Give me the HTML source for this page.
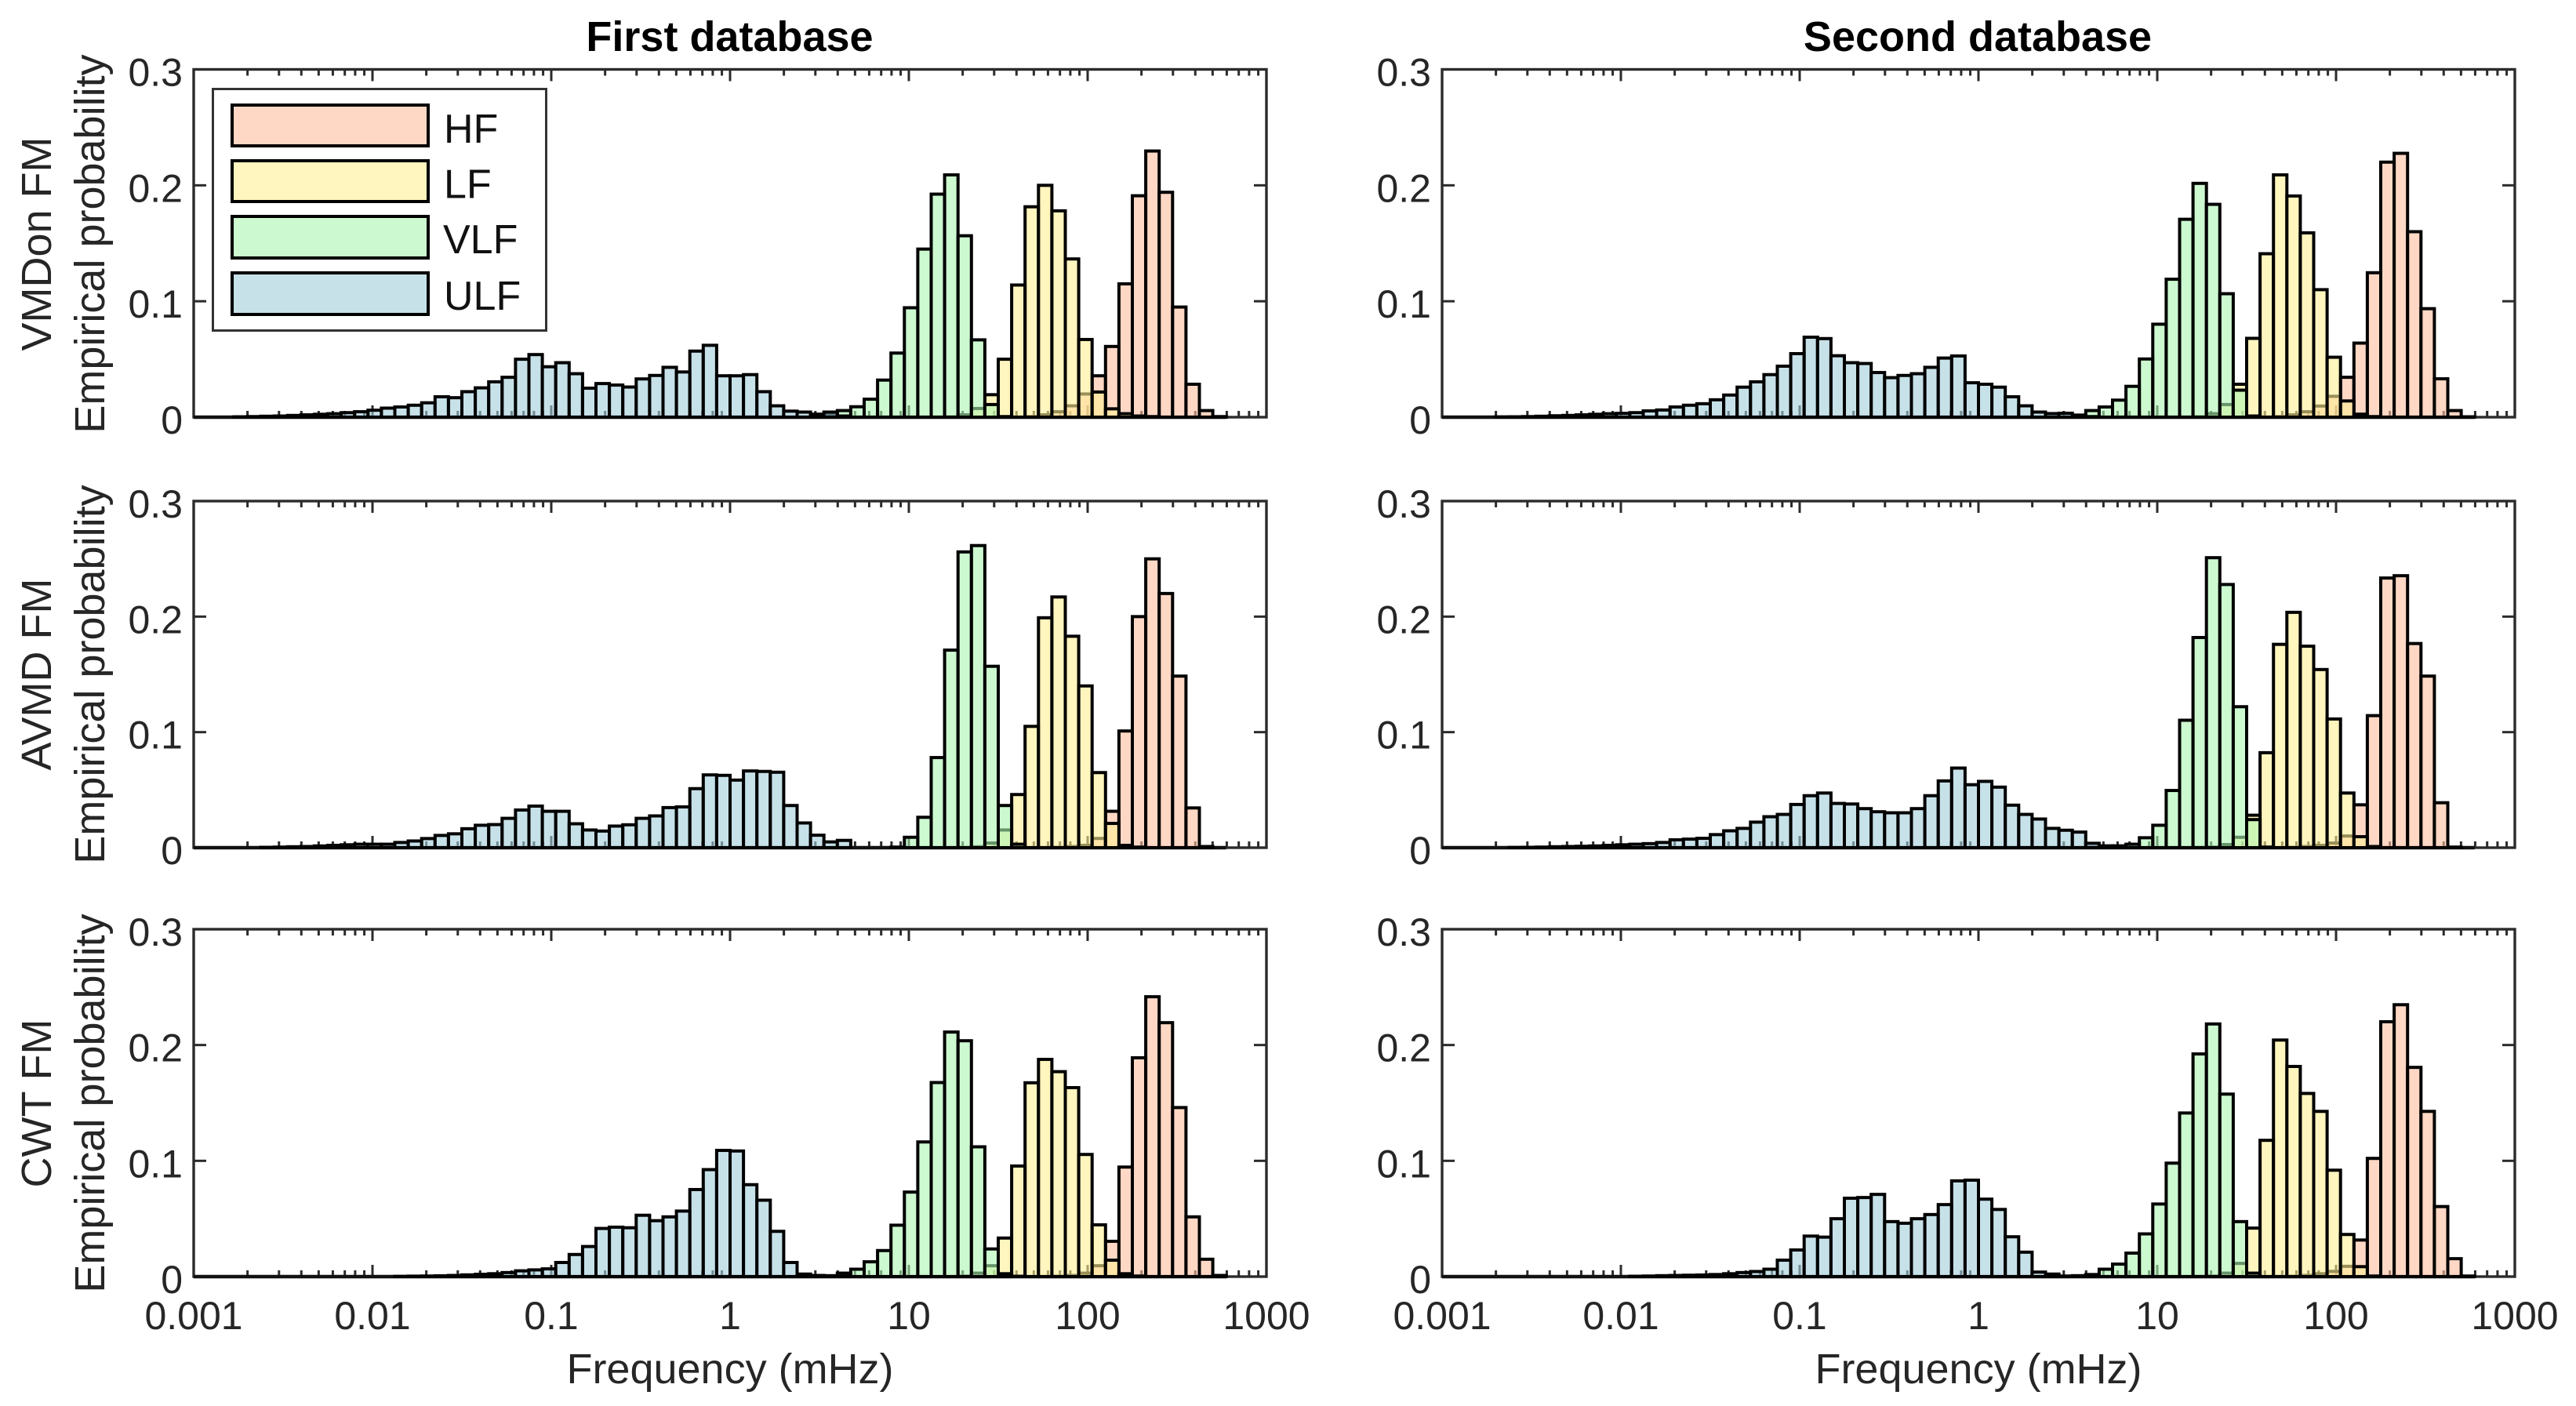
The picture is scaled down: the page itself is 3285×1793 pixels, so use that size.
<!DOCTYPE html>
<html lang="en">
<head>
<meta charset="utf-8">
<title>Empirical probability of FM frequency by band</title>
<style>
html,body{margin:0;padding:0;background:#fff;}
#chart{display:block;width:3285px;height:1793px;background:#fff;font-family:"Liberation Sans",Arial,sans-serif;}
</style>
</head>
<body>
<svg id="chart" xmlns="http://www.w3.org/2000/svg" width="3285" height="1793" viewBox="0 0 3285 1793">
<g id="plots"></g>
<text x="930.5" y="65" text-anchor="middle" font-size="54" font-weight="bold" fill="#000">First database</text>
<text x="2522" y="65" text-anchor="middle" font-size="54" font-weight="bold" fill="#000">Second database</text>
<text transform="translate(65,311) rotate(-90)" text-anchor="middle" font-size="54" fill="#262626">VMDon FM</text>
<text transform="translate(133,311) rotate(-90)" text-anchor="middle" font-size="54" fill="#262626">Empirical probability</text>
<text transform="translate(65,860) rotate(-90)" text-anchor="middle" font-size="54" fill="#262626">AVMD FM</text>
<text transform="translate(133,860) rotate(-90)" text-anchor="middle" font-size="54" fill="#262626">Empirical probability</text>
<text transform="translate(65,1407) rotate(-90)" text-anchor="middle" font-size="54" fill="#262626">CWT FM</text>
<text transform="translate(133,1407) rotate(-90)" text-anchor="middle" font-size="54" fill="#262626">Empirical probability</text>
<text x="931" y="1764" text-anchor="middle" font-size="54" fill="#262626">Frequency (mHz)</text>
<text x="2523" y="1764" text-anchor="middle" font-size="54" fill="#262626">Frequency (mHz)</text>
<g>
<rect x="271.5" y="113.5" width="425" height="308" fill="#fff" stroke="#333" stroke-width="3"/>
<g>
<rect x="296" y="134" width="250" height="52" fill="#FFD8C5" stroke="#000" stroke-width="4"/>
<text x="566" y="182" font-size="52" fill="#111">HF</text>
</g>
<g>
<rect x="296" y="205" width="250" height="52" fill="#FFF5BE" stroke="#000" stroke-width="4"/>
<text x="566" y="252.5" font-size="52" fill="#111">LF</text>
</g>
<g>
<rect x="296" y="276" width="250" height="53" fill="#CDF9D0" stroke="#000" stroke-width="4"/>
<text x="565" y="323" font-size="52" fill="#111">VLF</text>
</g>
<g>
<rect x="296" y="348" width="250" height="53" fill="#C7E1E9" stroke="#000" stroke-width="4"/>
<text x="566" y="395" font-size="52" fill="#111">ULF</text>
</g>
</g>
</svg>
<script>
// Histogram bins: 80 equal log-width bins over 6 decades (0.001 to 1000 mHz)
const binCount = 80;
const logMin = -3;
const logMax = 3;
const yMax = 0.3;
// Zero-height bins draw a black outline along the baseline up to this bin
const baselineEndBin = 77;

// Tick labels
const xTickValues = [0.001, 0.01, 0.1, 1, 10, 100, 1000];
const xTickLabels = ['0.001', '0.01', '0.1', '1', '10', '100', '1000'];
const yTickValues = [0, 0.1, 0.2, 0.3];
const yTickLabels = ['0', '0.1', '0.2', '0.3'];

// First bin index of each series array
const ulfStart = 3;
const vlfStart = 44;
const lfStart = 55;
const hfStart = 62;

// First database, VMDon FM
const vmdon1Ulf = [.0003,.0005,.0008,.001,.0015,.002,.0025,.003,.0039,.0047,.006,.0078,.0088,.0103,.0124,.0176,.0168,.022,.0253,.0305,.0344,.05,.054,.0435,.047,.0375,.025,.029,.0277,.026,.033,.036,.043,.039,.057,.062,.0357,.0357,.0367,.022,.0098,.0052,.0044,.0026,.0044,.001];
const vmdon1Vlf = [0,0,.0005,.002,.0057,.009,.0155,.032,.0553,.0944,.145,.1924,.209,.1565,.0667,.0109,.0005];
const vmdon1Lf = [0,.0002,.002,.0075,.0194,.05,.114,.1815,.2,.178,.1365,.067,.0217,.0072,.003,.001,.0005];
const vmdon1Hf = [.0005,.002,.0047,.0098,.02,.0357,.061,.115,.191,.2296,.194,.095,.0284,.0057,.0005];

// Second database, VMDon FM
const vmdon2Ulf = [0,.0002,.0003,.0005,.0008,.0012,.0015,.002,.0025,.003,.0033,.0039,.0054,.0062,.0088,.0103,.0116,.015,.0191,.0259,.0305,.0367,.044,.0548,.069,.0678,.053,.047,.0463,.0385,.0341,.036,.0375,.043,.051,.0528,.0297,.0284,.0259,.0176,.0098,.0044,.0031,.0034,.0018,.0005];
const vmdon2Vlf = [0,0,.0003,.0015,.0057,.0088,.0147,.0266,.0502,.0802,.119,.1707,.2017,.1836,.1065,.0233,.001];
const vmdon2Lf = [0,.0003,.003,.0109,.0284,.068,.141,.209,.1908,.159,.11,.0517,.014,.0026,.0005];
const vmdon2Hf = [.0005,.002,.0047,.0096,.018,.0344,.0639,.1246,.22,.2276,.16,.0936,.0331,.0057,.0003];

// First database, AVMD FM
const avmd1Ulf = [0,0,.0003,.0005,.0008,.001,.0015,.002,.0025,.003,.003,.003,.0045,.0058,.0079,.0106,.012,.0164,.0194,.02,.0254,.0326,.036,.0315,.0315,.0207,.0153,.0144,.0187,.0198,.0254,.0275,.0347,.0353,.0511,.063,.0626,.0585,.0664,.066,.0653,.0365,.0214,.0108,.005,.0063];
const avmd1Vlf = [0,0,0,0,0,0,0,0,.0005,.009,.0263,.078,.171,.256,.2615,.157,.0365,.003];
const avmd1Lf = [0,0,.0002,.0008,.004,.0153,.046,.105,.199,.217,.183,.14,.065,.021,.002,.0005];
const avmd1Hf = [0,0,.0003,.001,.002,.008,.0315,.101,.2,.25,.22,.1485,.0344,.001];

// Second database, AVMD FM
const avmd2Ulf = [0,0,.0002,.0003,.0005,.0008,.001,.0012,.0015,.002,.0025,.003,.0035,.0045,.0068,.0074,.0081,.0113,.0146,.0167,.0221,.0268,.0288,.0374,.045,.0473,.0383,.0378,.0338,.0311,.0302,.0302,.0338,.045,.0578,.0689,.0545,.0574,.0524,.0368,.0288,.0248,.0167,.0151,.0135,.0038,.0012,.0005];
const avmd2Vlf = [0,0,0,0,.0005,.0016,.0016,.003,.0086,.0194,.0495,.1103,.1819,.251,.2278,.122,.0243,.0005];
const avmd2Lf = [0,.0002,.0005,.0027,.009,.0281,.0822,.176,.2037,.1744,.1542,.1114,.0473,.0095,.001];
const avmd2Hf = [0,.0003,.001,.002,.004,.0101,.0371,.1143,.2334,.2354,.1767,.1485,.0389,.0005];

// First database, CWT FM
const cwt1Ulf = [0,0,0,0,0,0,0,0,0,0,0,0,.0002,.0004,.0005,.0007,.001,.0015,.002,.0025,.0035,.005,.0058,.0067,.0122,.0191,.026,.0416,.0427,.0422,.053,.0483,.0516,.0566,.0752,.0924,.109,.1085,.0794,.066,.0391,.0122,.0022,.001,.0008,.0003];
const cwt1Vlf = [0,0,0,.0003,.003,.0064,.0128,.0225,.0444,.073,.1163,.1676,.2112,.2037,.1121,.0239,.0025,.0003];
const cwt1Lf = [0,0,.0005,.003,.0094,.0333,.0955,.1674,.1876,.177,.1632,.1055,.0447,.0142,.0025,.0005];
const cwt1Hf = [0,0,.0003,.001,.003,.0094,.0305,.0946,.189,.2417,.2193,.146,.0516,.015,.001];

// Second database, CWT FM
const cwt2Ulf = [0,0,0,0,0,0,0,0,0,0,0,.0003,.0005,.0008,.001,.0012,.0014,.0018,.0025,.0035,.0044,.0064,.0142,.023,.035,.0341,.05,.0677,.0683,.071,.0475,.0461,.05,.0536,.0622,.0827,.0833,.0669,.058,.0344,.0211,.0039,.0022,.0005,.0003];
const cwt2Vlf = [0,0,.0003,.0008,.0018,.0064,.0108,.0203,.0369,.0627,.098,.1413,.1923,.2182,.1576,.0475,.003];
const cwt2Lf = [0,.0002,.0005,.003,.0114,.0419,.1177,.2043,.1815,.1582,.1427,.0919,.0364,.0086,.0005];
const cwt2Hf = [0,.0003,.001,.0025,.0045,.0089,.0316,.1021,.2201,.2348,.1807,.1427,.0605,.0155,.0005];

// Series styles, in drawing order (later series sit on top)
const seriesFills = ['rgb(255,190,158)', 'rgb(255,238,147)', 'rgb(172,245,177)', 'rgb(162,205,218)'];
const seriesStarts = [hfStart, lfStart, vlfStart, ulfStart];

// Panel frames
const colLefts = [247, 1839];
const panelWidth = 1368;
const rowTops = [88.5, 639, 1185];
const rowBottoms = [532, 1081, 1628];

const panelSeries = [
  { col: 0, row: 0, name: 'panel-first-vmdon', series: [vmdon1Hf, vmdon1Lf, vmdon1Vlf, vmdon1Ulf] },
  { col: 1, row: 0, name: 'panel-second-vmdon', series: [vmdon2Hf, vmdon2Lf, vmdon2Vlf, vmdon2Ulf] },
  { col: 0, row: 1, name: 'panel-first-avmd', series: [avmd1Hf, avmd1Lf, avmd1Vlf, avmd1Ulf] },
  { col: 1, row: 1, name: 'panel-second-avmd', series: [avmd2Hf, avmd2Lf, avmd2Vlf, avmd2Ulf] },
  { col: 0, row: 2, name: 'panel-first-cwt', series: [cwt1Hf, cwt1Lf, cwt1Vlf, cwt1Ulf] },
  { col: 1, row: 2, name: 'panel-second-cwt', series: [cwt2Hf, cwt2Lf, cwt2Vlf, cwt2Ulf] }
];

const SVG_NS = 'http://www.w3.org/2000/svg';
const axisColor = '#2b2b2b';

function shape(parent, tag, attrs) {
  const el = document.createElementNS(SVG_NS, tag);
  for (const key in attrs) el.setAttribute(key, attrs[key]);
  parent.appendChild(el);
  return el;
}

function tickLine(parent, x1, y1, x2, y2, width) {
  const el = shape(parent, 'line', { x1: x1, y1: y1, x2: x2, y2: y2, stroke: axisColor, 'stroke-width': width });
  
  
  return el;
}

function drawPanel(root, panel) {
  const left = colLefts[panel.col];
  const top = rowTops[panel.row];
  const bottom = rowBottoms[panel.row];
  const xScale = function (logValue) { return left + (logValue - logMin) / (logMax - logMin) * panelWidth; };
  const yScale = function (value) { return bottom - value / yMax * (bottom - top); };
  const binLog = (logMax - logMin) / binCount;

  const group = shape(root, 'g', {});
  
  

  const frame = shape(group, 'rect', { x: left, y: top, width: panelWidth, height: bottom - top, fill: '#fff', stroke: axisColor, 'stroke-width': 3.4 });
  
  

  // x ticks, major and minor, on bottom and top edges
  for (let d = logMin; d <= logMax; d++) {
    const majorX = xScale(d);
    if (d > logMin && d < logMax) {
      tickLine(group, majorX, bottom, majorX, bottom - 15, 3);
      tickLine(group, majorX, top, majorX, top + 15, 3);
    }
    if (d < logMax) {
      for (let m = 2; m <= 9; m++) {
        const minorX = xScale(d + Math.log10(m));
        tickLine(group, minorX, bottom, minorX, bottom - 8, 3);
        tickLine(group, minorX, top, minorX, top + 8, 3);
      }
    }
  }

  // y ticks and labels
  yTickValues.forEach(function (value, i) {
    const y = yScale(value);
    tickLine(group, left, y, left + 16, y, 3);
    tickLine(group, left + panelWidth, y, left + panelWidth - 16, y, 3);
    const label = shape(group, 'text', { x: left - 14, y: y + 21, 'text-anchor': 'end', 'font-size': 50, fill: '#262626' });
    
    
    label.textContent = yTickLabels[i];
  });

  // x tick labels on the bottom row only
  if (panel.row === rowTops.length - 1) {
    xTickValues.forEach(function (value, i) {
      const label = shape(group, 'text', { x: xScale(Math.log10(value)), y: 1695, 'text-anchor': 'middle', 'font-size': 50, fill: '#262626' });
      
      
      label.textContent = xTickLabels[i];
    });
  }

  // Baseline left by empty bins
  const baseline = shape(group, 'line', {
    x1: xScale(logMin), y1: yScale(0),
    x2: xScale(logMin + baselineEndBin * binLog), y2: yScale(0),
    stroke: '#111', 'stroke-width': 4.6
  });
  
  

  // Bars
  panel.series.forEach(function (values, s) {
    const seriesGroup = shape(group, 'g', {});
    
    
    values.forEach(function (value, i) {
      if (value <= 0) return;
      const bin = seriesStarts[s] + i;
      const x0 = xScale(logMin + bin * binLog);
      const x1 = xScale(logMin + (bin + 1) * binLog);
      const y0 = yScale(value);
      const bar = shape(seriesGroup, 'rect', {
        x: x0, y: y0, width: x1 - x0, height: yScale(0) - y0,
        fill: seriesFills[s], 'fill-opacity': 0.6, stroke: '#000', 'stroke-width': 4
      });
      
      
    });
  });
}

const plotRoot = document.getElementById('plots');
panelSeries.forEach(function (panel) { drawPanel(plotRoot, panel); });
</script>
</body>
</html>
